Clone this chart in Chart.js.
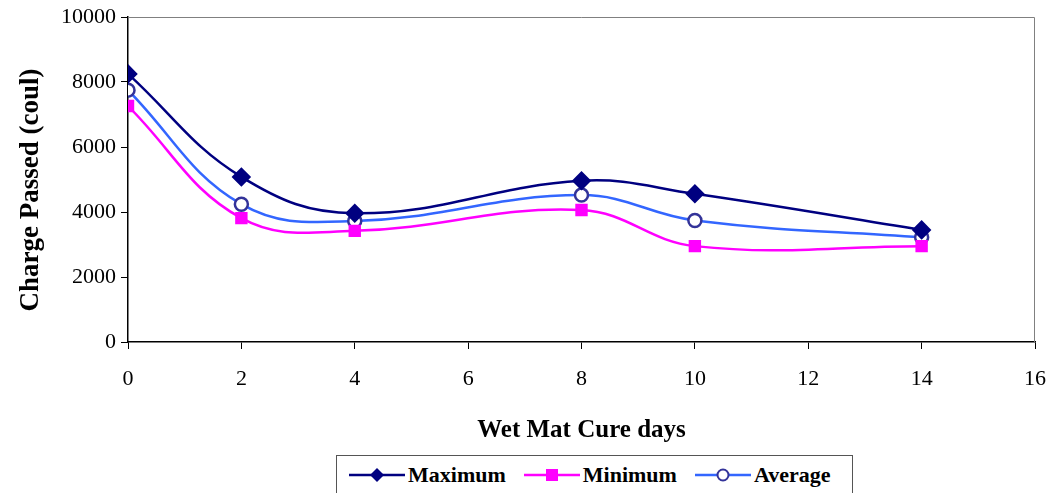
<!DOCTYPE html>
<html>
<head>
<meta charset="utf-8">
<script src="https://cdn.jsdelivr.net/npm/chart.js@4"></script>
<style>
  body { margin: 0; background: #fff; }
  #wrap { position: relative; width: 1050px; height: 493px; }
  #legend {
    position: absolute; left: 336px; top: 455px; width: 517px; height: 40px;
    border: 1px solid #555; box-sizing: border-box; background: #fff;
    font-family: "Liberation Serif", serif; font-weight: bold; font-size: 22px;
    display: flex; align-items: center; padding-left: 12px;
  }
  #legend span { display: flex; align-items: center; margin-right: 18px; }
  #legend svg { margin-right: 3px; }
</style>
</head>
<body>
<div id="wrap">
  <canvas id="chart" width="1050" height="493"></canvas>
  <div id="legend">
    <span><svg width="56" height="20"><line x1="0" y1="10" x2="56" y2="10" stroke="#000080" stroke-width="2.5"/><polygon points="28,3 35,10 28,17 21,10" fill="#000080"/></svg>Maximum</span>
    <span><svg width="56" height="20"><line x1="0" y1="10" x2="56" y2="10" stroke="#FF00FF" stroke-width="2.5"/><rect x="22" y="4" width="12" height="12" fill="#FF00FF"/></svg>Minimum</span>
    <span><svg width="56" height="20"><line x1="0" y1="10" x2="56" y2="10" stroke="#3366FF" stroke-width="2.5"/><circle cx="28" cy="10" r="5.5" fill="#fff" stroke="#333399" stroke-width="2"/></svg>Average</span>
  </div>
</div>
<script>
var days = [0, 2, 4, 8, 10, 14];
var maximum = [8250, 5080, 3960, 4960, 4560, 3450];
var minimum = [7260, 3810, 3420, 4060, 2950, 2950];
var average = [7750, 4240, 3720, 4520, 3740, 3220];
var xTicks = [0, 2, 4, 6, 8, 10, 12, 14, 16];
var yTicks = [0, 2000, 4000, 6000, 8000, 10000];

function pts(vals) {
  return vals.map(function (v, i) { return { x: days[i], y: v }; });
}

// grey frame on top and right of the plot area, y title drawn a bit lower like the original
var frame = {
  id: "frame",
  afterDraw: function (chart) {
    var a = chart.chartArea, c = chart.ctx;
    c.save();
    c.strokeStyle = "#808080";
    c.lineWidth = 1;
    c.beginPath();
    c.moveTo(a.left, a.top + 0.5);
    c.lineTo(a.right - 0.5, a.top + 0.5);
    c.lineTo(a.right - 0.5, a.bottom);
    c.stroke();
    c.translate(31, 190);
    c.rotate(-Math.PI / 2);
    c.fillStyle = "#000";
    c.font = "bold 27px 'Liberation Serif'";
    c.textAlign = "center";
    c.textBaseline = "middle";
    c.fillText("Charge Passed (coul)", 0, 0);
    c.restore();
  }
};

var tickFont = { family: "Liberation Serif", size: 22 };

var ctx = document.getElementById("chart").getContext("2d");
var myChart = new Chart(ctx, {
  type: "line",
  data: {
    datasets: [
      {
        label: "Maximum",
        data: pts(maximum),
        borderColor: "#000080",
        backgroundColor: "#000080",
        borderWidth: 2.5,
        pointStyle: "rectRot",
        pointRadius: 8,
        tension: 0.4,
      },
      {
        label: "Minimum",
        data: pts(minimum),
        borderColor: "#FF00FF",
        backgroundColor: "#FF00FF",
        borderWidth: 2.5,
        pointStyle: "rect",
        pointRadius: 7,
        tension: 0.4,
      },
      {
        label: "Average",
        data: pts(average),
        borderColor: "#3366FF",
        backgroundColor: "#ffffff",
        pointBorderColor: "#333399",
        pointBorderWidth: 2.5,
        borderWidth: 2.5,
        pointStyle: "circle",
        pointRadius: 6.5,
        tension: 0.4,
      },
    ],
  },
  options: {
    responsive: false,
    animation: false,
    layout: { padding: { left: 14, right: 15, top: 17, bottom: 47 } },
    plugins: {
      legend: { display: false },
      tooltip: { enabled: false },
    },
    scales: {
      x: {
        type: "linear",
        min: 0,
        max: 16,
        afterBuildTicks: function (s) { s.ticks = xTicks.map(function (v) { return { value: v }; }); },
        grid: { drawOnChartArea: false, color: "#000", tickLength: 7 },
        border: { color: "#000", width: 1.5 },
        ticks: { color: "#000", font: tickFont, padding: 17, callback: function (v) { return String(v); } },
        title: {
          display: true,
          text: "Wet Mat Cure days",
          color: "#000",
          font: { family: "Liberation Serif", size: 25, weight: "bold" },
          padding: { top: 6, bottom: 0 },
        },
        afterFit: function (s) {
          s.height = 493 - 342 - 47;
          s.paddingLeft = 0;
          s.paddingRight = 0;
        },
      },
      y: {
        min: 0,
        max: 10000,
        afterBuildTicks: function (s) { s.ticks = yTicks.map(function (v) { return { value: v }; }); },
        grid: { drawOnChartArea: false, color: "#000", tickLength: 7 },
        border: { color: "#000", width: 1.5 },
        ticks: { color: "#000", font: tickFont, padding: 5, callback: function (v) { return String(v); } },
        afterFit: function (s) {
          s.width = 128 - 14;
          s.paddingTop = 0;
          s.paddingBottom = 0;
        },
      },
    },
  },
  plugins: [frame],
});
</script>
</body>
</html>
